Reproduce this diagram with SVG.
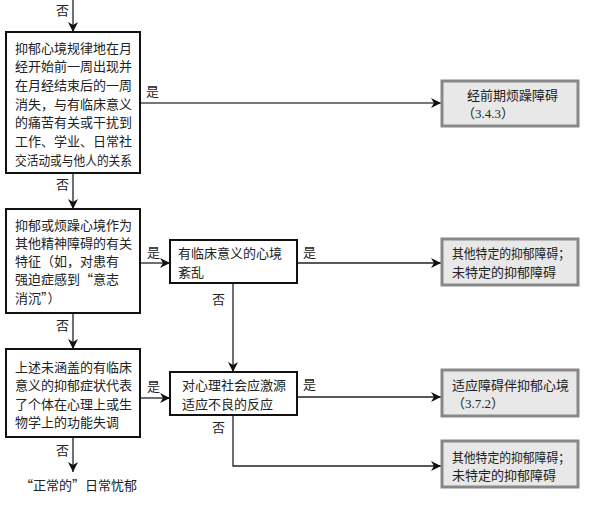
<svg xmlns="http://www.w3.org/2000/svg" width="595" height="510" viewBox="0 0 595 510">
<defs>
<style>
text{font-family:"Noto Sans CJK SC","Liberation Serif",sans-serif;font-size:13px;fill:#222}
.n{font-family:"Liberation Serif",serif}
.q{fill:#fff;stroke:#111;stroke-width:2}
.t{fill:#e8e8e8;stroke:#888;stroke-width:3}
.c{fill:none;stroke:#222;stroke-width:1.3}
.g{fill:none;stroke:#777;stroke-width:2}
</style>
<marker id="a" viewBox="0 0 10 10" refX="10" refY="5" markerWidth="10" markerHeight="10" markerUnits="userSpaceOnUse" orient="auto">
<path d="M0,0 L10,5 L0,10 L3,5 Z" fill="#111"/>
</marker>
</defs>
<rect width="595" height="510" fill="#fff"/>
<g id="connectors">
<line class="c" x1="73" y1="0" x2="73" y2="32" marker-end="url(#a)"/>
<line class="g" x1="140" y1="103" x2="441" y2="103" marker-end="url(#a)"/>
<line class="c" x1="73" y1="173" x2="73" y2="209" marker-end="url(#a)"/>
<line class="c" x1="140" y1="263" x2="170" y2="263" marker-end="url(#a)"/>
<line class="c" x1="297" y1="263" x2="441" y2="263" marker-end="url(#a)"/>
<line class="c" x1="233" y1="283" x2="233" y2="372" marker-end="url(#a)"/>
<line class="c" x1="73" y1="313" x2="73" y2="349" marker-end="url(#a)"/>
<line class="c" x1="140" y1="398" x2="170" y2="398" marker-end="url(#a)"/>
<line class="c" x1="297" y1="397" x2="441" y2="397" marker-end="url(#a)"/>
<polyline class="c" points="233,415 233,466 441,466" marker-end="url(#a)"/>
<line class="c" x1="73" y1="437" x2="73" y2="472" marker-end="url(#a)"/>
<text x="56" y="15">否</text>
<text x="146" y="96">是</text>
<text x="56" y="189">否</text>
<text x="147" y="257">是</text>
<text x="303" y="257">是</text>
<text x="212" y="304">否</text>
<text x="56" y="330">否</text>
<text x="147" y="391">是</text>
<text x="303" y="389">是</text>
<text x="212" y="432">否</text>
<text x="56" y="455">否</text>
</g>
<g id="n1">
<rect class="q" x="6" y="32" width="134" height="141"/>
<text x="15" y="52.5">抑郁心境规律地在月</text>
<text x="15" y="71.2">经开始前一周出现并</text>
<text x="15" y="89.9">在月经结束后的一周</text>
<text x="15" y="108.6">消失，与有临床意义</text>
<text x="15" y="127.3">的痛苦有关或干扰到</text>
<text x="15" y="146">工作、学业、日常社</text>
<text x="15" y="164.7" textLength="117" lengthAdjust="spacingAndGlyphs">交活动或与他人的关系</text>
</g>
<g id="t1">
<rect class="t" x="442" y="81" width="136" height="45"/>
<text x="467" y="100">经前期烦躁障碍</text>
<text x="462" y="118">（<tspan class="n">3.4.3</tspan>）</text>
</g>
<g id="n2">
<rect class="q" x="6" y="209" width="134" height="104"/>
<text x="15" y="229.5">抑郁或烦躁心境作为</text>
<text x="15" y="247.8">其他精神障碍的有关</text>
<text x="15" y="266">特征（如，对患有</text>
<text x="15" y="284.3">强迫症感到“意志</text>
<text x="15" y="302.5">消沉”）</text>
</g>
<g id="n3">
<rect class="q" x="170" y="240" width="127" height="43"/>
<text x="178" y="257.5">有临床意义的心境</text>
<text x="178" y="276.5">紊乱</text>
</g>
<g id="t2">
<rect class="t" x="442" y="239" width="136" height="46"/>
<text x="452" y="257.5" textLength="118" lengthAdjust="spacingAndGlyphs">其他特定的抑郁障碍；</text>
<text x="452" y="276.5">未特定的抑郁障碍</text>
</g>
<g id="n4">
<rect class="q" x="6" y="349" width="134" height="88"/>
<text x="15" y="371.5">上述未涵盖的有临床</text>
<text x="15" y="390">意义的抑郁症状代表</text>
<text x="15" y="408.5">了个体在心理上或生</text>
<text x="15" y="427">物学上的功能失调</text>
</g>
<g id="n5">
<rect class="q" x="170" y="372" width="127" height="43"/>
<text x="182" y="389.5">对心理社会应激源</text>
<text x="182" y="408.5">适应不良的反应</text>
</g>
<g id="t3">
<rect class="t" x="442" y="370" width="136" height="46"/>
<text x="452" y="389.5">适应障碍伴抑郁心境</text>
<text x="452" y="407.5">（<tspan class="n">3.7.2</tspan>）</text>
</g>
<g id="t4">
<rect class="t" x="442" y="441" width="136" height="46"/>
<text x="452" y="461.5" textLength="118" lengthAdjust="spacingAndGlyphs">其他特定的抑郁障碍；</text>
<text x="452" y="479.5">未特定的抑郁障碍</text>
</g>
<g id="n6">
<text x="20" y="490">“正常的”日常忧郁</text>
</g>
</svg>
